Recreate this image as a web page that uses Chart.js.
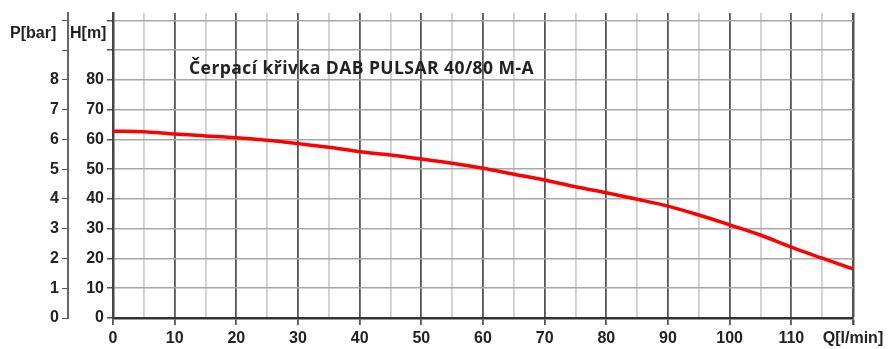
<!DOCTYPE html>
<html>
<head>
<meta charset="utf-8">
<script src="https://cdn.jsdelivr.net/npm/chart.js@4.4.1/dist/chart.umd.min.js"></script>
<style>
  html, body { margin: 0; padding: 0; background: #fff; }
  #wrap { position: relative; width: 891px; height: 349px; }
  canvas { position: absolute; left: 0; top: 0; }
  .lbl { position: absolute; font-family: "Liberation Sans", Arial, sans-serif; font-weight: bold; color: #222; white-space: nowrap; }
  #title { font-family: "Open Sans", "Noto Sans", sans-serif; font-size: 17.5px; letter-spacing: 0.45px; line-height: 20px; left: 189px; top: 57px; }
  #pbar { font-size: 16px; left: 10px; top: 24px; }
  #hm { font-size: 16px; left: 70px; top: 24px; }
</style>
</head>
<body>
<div id="wrap">
  <canvas id="c" width="891" height="349"></canvas>
  <div class="lbl" id="title">Čerpací křivka DAB PULSAR 40/80 M-A</div>
  <div class="lbl" id="pbar">P[bar]</div>
  <div class="lbl" id="hm">H[m]</div>
</div>
<script>
// Flow rate Q [l/min]
const flowQ = [0, 5, 10, 15, 20, 25, 30, 35, 40, 45, 50, 55, 60, 65, 70, 75, 80, 85, 90, 95, 100, 105, 110, 115, 120];
// Head H [m]
const headH = [62.8, 62.6, 61.8, 61.2, 60.6, 59.7, 58.6, 57.4, 55.9, 54.8, 53.4, 52.0, 50.3, 48.3, 46.4, 44.1, 42.1, 39.9, 37.6, 34.6, 31.3, 27.9, 23.8, 20.1, 16.5];
// Axis tick labels
const hTickLabels = [0, 10, 20, 30, 40, 50, 60, 70, 80];
const pTickLabels = [0, 1, 2, 3, 4, 5, 6, 7, 8];
const qTickLabels = [0, 10, 20, 30, 40, 50, 60, 70, 80, 90, 100, 110];
const qAxisLabel = 'Q[l/min]';

const tickFont = { family: '"Liberation Sans", Arial, sans-serif', size: 16, weight: 'bold' };

const points = flowQ.map((q, i) => ({ x: q, y: headH[i] }));

new Chart(document.getElementById('c'), {
  type: 'line',
  data: {
    datasets: [{
      data: points,
      borderColor: '#ff0000',
      borderWidth: 3.5,
      pointRadius: 0,
      tension: 0.4,
      cubicInterpolationMode: 'monotone',
      yAxisID: 'yH'
    }]
  },
  options: {
    responsive: false,
    animation: false,
    devicePixelRatio: 1,
    layout: { padding: { top: 13, right: 38, left: 0, bottom: 0 } },
    plugins: { legend: { display: false }, tooltip: { enabled: false }, title: { display: false } },
    scales: {
      x: {
        type: 'linear',
        min: 0, max: 120,
        border: { display: true, color: '#333', width: 2.5 },
        grid: {
          color: ctx => (ctx.tick && ctx.tick.value % 10 === 0) ? '#555' : '#cfcfcf',
          lineWidth: ctx => (ctx.tick && ctx.tick.value === 120) ? 2.5 : 1.8,
          tickColor: ctx => (ctx.tick && ctx.tick.value % 10 === 0) ? '#555' : 'rgba(0,0,0,0)',
          tickLength: 7
        },
        ticks: {
          stepSize: 5,
          autoSkip: false,
          maxRotation: 0,
          padding: 4,
          color: '#222',
          font: tickFont,
          callback: v => v === 120 ? qAxisLabel : (qTickLabels.includes(v) ? String(v) : '')
        },
        afterFit: s => { s.height = 31; }
      },
      yH: {
        type: 'linear',
        position: 'left',
        weight: 0,
        min: 0, max: 102.5,
        border: { display: true, color: '#444', width: 2.5 },
        grid: {
          color: '#a8a8a8',
          lineWidth: 1.5,
          tickColor: '#555',
          tickLength: 6
        },
        ticks: {
          stepSize: 10,
          includeBounds: false,
          padding: 3,
          color: '#222',
          font: tickFont,
          callback: v => hTickLabels.includes(v) ? String(v) : ''
        },
        afterFit: s => { s.width = 45; }
      },
      yP: {
        type: 'linear',
        position: 'left',
        weight: 1,
        min: 0, max: 10.25,
        border: { display: true, color: '#666', width: 2 },
        grid: {
          drawOnChartArea: false,
          tickColor: '#555',
          tickLength: 6
        },
        ticks: {
          stepSize: 1,
          includeBounds: false,
          padding: 3,
          color: '#222',
          font: tickFont,
          callback: v => pTickLabels.includes(v) ? String(v) : ''
        },
        afterFit: s => { s.width = 68; }
      }
    }
  }
});
</script>
</body>
</html>
